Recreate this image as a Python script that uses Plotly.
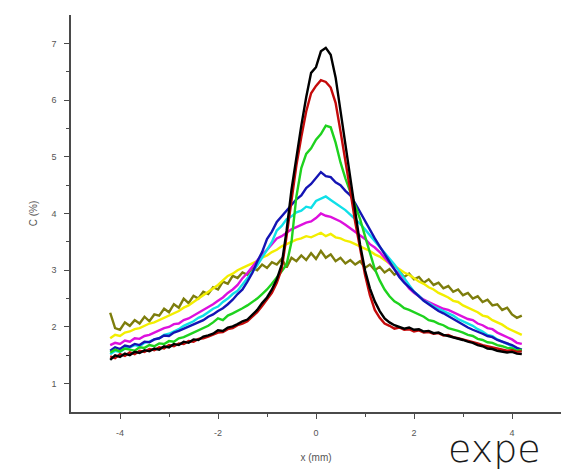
import plotly.graph_objects as go

# x positions (mm)
x_mm = [-4.2, -4.1, -4.0, -3.9, -3.8, -3.7, -3.6, -3.5, -3.4, -3.3,
        -3.2, -3.1, -3.0, -2.9, -2.8, -2.7, -2.6, -2.5, -2.4, -2.3,
        -2.2, -2.1, -2.0, -1.9, -1.8, -1.7, -1.6, -1.5, -1.4, -1.3,
        -1.2, -1.1, -1.0, -0.9, -0.8, -0.7, -0.6, -0.5, -0.4, -0.3,
        -0.2, -0.1, 0.0, 0.1, 0.2, 0.3, 0.4, 0.5, 0.6, 0.7,
        0.8, 0.9, 1.0, 1.1, 1.2, 1.3, 1.4, 1.5, 1.6, 1.7,
        1.8, 1.9, 2.0, 2.1, 2.2, 2.3, 2.4, 2.5, 2.6, 2.7,
        2.8, 2.9, 3.0, 3.1, 3.2, 3.3, 3.4, 3.5, 3.6, 3.7,
        3.8, 3.9, 4.0, 4.1, 4.2]

c_black = [1.42, 1.50, 1.47, 1.53, 1.50, 1.56, 1.54, 1.59, 1.57, 1.62,
           1.60, 1.66, 1.64, 1.70, 1.68, 1.74, 1.72, 1.78, 1.77, 1.83,
           1.85, 1.88, 1.94, 1.93, 1.99, 2.01, 2.05, 2.10, 2.13, 2.22,
           2.30, 2.42, 2.52, 2.66, 2.84, 3.10, 3.70, 4.42, 5.00, 5.55,
           6.05, 6.48, 6.58, 6.86, 6.92, 6.80, 6.40, 5.80, 5.22, 4.60,
           4.00, 3.45, 3.00, 2.68, 2.45, 2.28, 2.15, 2.08, 2.03, 2.00,
           1.97, 1.99, 1.95, 1.96, 1.92, 1.93, 1.89, 1.90, 1.86, 1.84,
           1.82, 1.79, 1.77, 1.74, 1.72, 1.68, 1.66, 1.62, 1.61, 1.58,
           1.57, 1.55, 1.56, 1.53, 1.52]

c_red = [1.48, 1.45, 1.52, 1.49, 1.55, 1.52, 1.58, 1.56, 1.61, 1.59,
         1.64, 1.62, 1.68, 1.66, 1.71, 1.70, 1.75, 1.74, 1.79, 1.80,
         1.83, 1.86, 1.90, 1.91, 1.96, 1.98, 2.03, 2.06, 2.10, 2.18,
         2.26, 2.37, 2.48, 2.60, 2.78, 3.02, 3.60, 4.25, 4.85, 5.35,
         5.80, 6.12, 6.25, 6.35, 6.32, 6.22, 5.95, 5.45, 4.95, 4.40,
         3.85, 3.35, 2.92, 2.56, 2.30, 2.16, 2.06, 2.02, 1.97, 1.99,
         1.95, 1.96, 1.92, 1.94, 1.90, 1.91, 1.88, 1.89, 1.85, 1.86,
         1.82, 1.80, 1.78, 1.76, 1.73, 1.71, 1.68, 1.66, 1.63, 1.62,
         1.60, 1.58, 1.59, 1.56, 1.57]

c_green = [1.55, 1.60, 1.57, 1.62, 1.60, 1.58, 1.64, 1.63, 1.68, 1.66,
           1.71, 1.70, 1.75, 1.74, 1.80, 1.82, 1.86, 1.90, 1.93, 1.98,
           2.02, 2.08, 2.15, 2.12, 2.20, 2.24, 2.28, 2.33, 2.38, 2.44,
           2.50, 2.58, 2.66, 2.76, 2.86, 2.98, 3.10, 3.50, 4.30, 4.80,
           5.05, 5.15, 5.30, 5.40, 5.55, 5.52, 5.25, 4.90, 4.62, 4.38,
           4.15, 3.90, 3.60, 3.30, 3.02, 2.82, 2.66, 2.54, 2.45, 2.40,
           2.33, 2.30, 2.26, 2.22, 2.18, 2.12, 2.10, 2.06, 2.03, 1.98,
           1.96, 1.93, 1.90, 1.86, 1.84, 1.79, 1.77, 1.73, 1.72, 1.68,
           1.66, 1.63, 1.62, 1.58, 1.60]

c_blue = [1.58, 1.64, 1.61, 1.67, 1.65, 1.70, 1.68, 1.74, 1.73, 1.78,
          1.80, 1.85, 1.84, 1.90, 1.93, 1.97, 2.00, 2.04, 2.08, 2.12,
          2.18, 2.22, 2.28, 2.33, 2.40, 2.48, 2.58, 2.66, 2.80, 2.95,
          3.15, 3.32, 3.55, 3.68, 3.85, 3.95, 4.05, 4.15, 4.25, 4.32,
          4.45, 4.52, 4.62, 4.73, 4.66, 4.64, 4.55, 4.50, 4.40, 4.32,
          4.18, 4.02, 3.86, 3.70, 3.56, 3.42, 3.28, 3.16, 3.02, 2.88,
          2.78, 2.70, 2.62, 2.55, 2.46, 2.40, 2.34, 2.28, 2.24, 2.19,
          2.13, 2.09, 2.03, 1.99, 1.95, 1.92, 1.88, 1.84, 1.82, 1.77,
          1.74, 1.70, 1.68, 1.63, 1.60]

c_cyan = [1.52, 1.58, 1.56, 1.62, 1.64, 1.68, 1.66, 1.72, 1.74, 1.78,
          1.80, 1.86, 1.88, 1.92, 1.96, 2.02, 2.06, 2.10, 2.16, 2.20,
          2.26, 2.32, 2.36, 2.44, 2.50, 2.58, 2.64, 2.75, 2.84, 2.96,
          3.08, 3.22, 3.36, 3.50, 3.70, 3.78, 3.90, 3.95, 4.02, 4.05,
          4.12, 4.10, 4.22, 4.26, 4.30, 4.24, 4.18, 4.12, 4.06, 3.98,
          3.90, 3.82, 3.72, 3.62, 3.52, 3.42, 3.30, 3.20, 3.10, 2.98,
          2.86, 2.76, 2.62, 2.55, 2.46, 2.42, 2.36, 2.32, 2.28, 2.24,
          2.20, 2.14, 2.10, 2.05, 2.02, 1.96, 1.92, 1.86, 1.84, 1.78,
          1.74, 1.70, 1.66, 1.60, 1.57]

c_magenta = [1.68, 1.72, 1.70, 1.76, 1.74, 1.80, 1.79, 1.84, 1.86, 1.90,
             1.93, 1.98, 2.00, 2.05, 2.06, 2.12, 2.15, 2.20, 2.24, 2.30,
             2.34, 2.40, 2.46, 2.52, 2.60, 2.66, 2.74, 2.86, 2.95, 3.06,
             3.16, 3.28, 3.36, 3.46, 3.56, 3.60, 3.66, 3.72, 3.76, 3.80,
             3.84, 3.86, 3.92, 4.00, 3.96, 3.94, 3.90, 3.86, 3.80, 3.74,
             3.68, 3.62, 3.55, 3.46, 3.40, 3.32, 3.22, 3.14, 3.04, 2.92,
             2.80, 2.68, 2.60, 2.54, 2.48, 2.44, 2.40, 2.36, 2.32, 2.30,
             2.26, 2.22, 2.18, 2.14, 2.12, 2.06, 2.03, 1.98, 1.96, 1.90,
             1.86, 1.82, 1.78, 1.72, 1.70]

c_yellow = [1.80, 1.86, 1.84, 1.90, 1.92, 1.96, 1.98, 2.02, 2.06, 2.08,
            2.12, 2.16, 2.20, 2.24, 2.28, 2.34, 2.38, 2.44, 2.50, 2.55,
            2.62, 2.68, 2.74, 2.82, 2.90, 2.94, 3.00, 3.04, 3.08, 3.12,
            3.16, 3.22, 3.26, 3.32, 3.36, 3.42, 3.46, 3.50, 3.54, 3.56,
            3.60, 3.58, 3.62, 3.66, 3.60, 3.64, 3.58, 3.56, 3.52, 3.50,
            3.46, 3.42, 3.38, 3.34, 3.28, 3.24, 3.18, 3.12, 3.08, 3.02,
            2.96, 2.92, 2.86, 2.80, 2.76, 2.70, 2.66, 2.60, 2.56, 2.52,
            2.46, 2.44, 2.38, 2.34, 2.30, 2.26, 2.20, 2.18, 2.12, 2.08,
            2.04, 1.98, 1.94, 1.90, 1.86]

c_olive = [2.25, 1.98, 1.95, 2.08, 2.02, 2.12, 2.06, 2.18, 2.10, 2.22,
           2.20, 2.32, 2.26, 2.40, 2.34, 2.50, 2.42, 2.55, 2.50, 2.62,
           2.58, 2.70, 2.66, 2.80, 2.76, 2.90, 2.86, 2.96, 2.92, 3.04,
           3.00, 3.10, 3.04, 3.14, 3.10, 3.20, 3.05, 3.22, 3.16, 3.26,
           3.18, 3.30, 3.20, 3.34, 3.22, 3.28, 3.16, 3.22, 3.12, 3.18,
           3.10, 3.16, 3.04, 3.10, 3.00, 3.06, 2.96, 3.02, 2.92, 2.98,
           2.88, 2.94, 2.84, 2.88, 2.78, 2.84, 2.74, 2.78, 2.68, 2.72,
           2.62, 2.66, 2.56, 2.60, 2.50, 2.54, 2.44, 2.48, 2.38, 2.40,
           2.30, 2.34, 2.22, 2.16, 2.20]

series = [
    ("olive", c_olive, "#7d7d0c"),
    ("yellow", c_yellow, "#f2ee00"),
    ("magenta", c_magenta, "#dd10dd"),
    ("cyan", c_cyan, "#10e0e8"),
    ("blue", c_blue, "#1414b4"),
    ("green", c_green, "#1ed21e"),
    ("red", c_red, "#c40a0a"),
    ("black", c_black, "#000000"),
]

x_ticks = [-4, -2, 0, 2, 4]
y_ticks = [1, 2, 3, 4, 5, 6, 7]

fig = go.Figure()
for name, vals, col in series:
    fig.add_trace(go.Scatter(x=x_mm, y=vals, mode="lines", name=name,
                             line=dict(color=col, width=2.4)))

axis_col = "#4a4a4a"
font_fam = "Liberation Sans, Arial, sans-serif"
tick_font = dict(family=font_fam, size=9, color="#555555")

fig.update_layout(
    width=561, height=472,
    margin=dict(l=71, r=0, t=15, b=60, autoexpand=False),
    paper_bgcolor="white", plot_bgcolor="white",
    showlegend=False,
    xaxis=dict(range=[-5, 5], tickvals=x_ticks, ticktext=[str(v) for v in x_ticks],
               showgrid=False, zeroline=False, showline=True, linecolor=axis_col,
               linewidth=1.5, ticks="outside", ticklen=5, tickwidth=1.2, tickcolor=axis_col,
               minor=dict(tickvals=[-3, -1, 1, 3], ticks="outside", ticklen=3,
                          tickcolor=axis_col, tickwidth=1.2),
               tickfont=tick_font, ticklabelstandoff=6, automargin=False,
               title=dict(text="x (mm)", font=dict(family=font_fam, size=10, color="#555555"),
                          standoff=17)),
    yaxis=dict(range=[0.5, 7.5], tickvals=y_ticks, ticktext=[str(v) for v in y_ticks],
               showgrid=False, zeroline=False, showline=True, linecolor=axis_col,
               linewidth=1.5, ticks="outside", ticklen=5, tickwidth=1.2, tickcolor=axis_col,
               minor=dict(tickvals=[1.5, 2.5, 3.5, 4.5, 5.5, 6.5], ticks="outside", ticklen=3,
                          tickcolor=axis_col, tickwidth=1.2),
               tickfont=tick_font, ticklabelstandoff=6, automargin=False,
               title=dict(text="C (%)", font=dict(family=font_fam, size=10, color="#555555"),
                          standoff=12)),
    annotations=[dict(text="expe", xref="paper", yref="paper", x=0.768, y=-0.150,
                      xanchor="left", yanchor="bottom", showarrow=False, borderpad=0,
                      height=32, valign="bottom",
                      font=dict(family="DejaVu Sans ExtraLight, DejaVu Sans, sans-serif",
                                size=38, color="#1a1a1a", weight=200))],
)

fig.write_html("out.html", config={"displayModeBar": False},
               post_script="document.body.style.margin='0px';document.body.style.overflow='hidden';")
